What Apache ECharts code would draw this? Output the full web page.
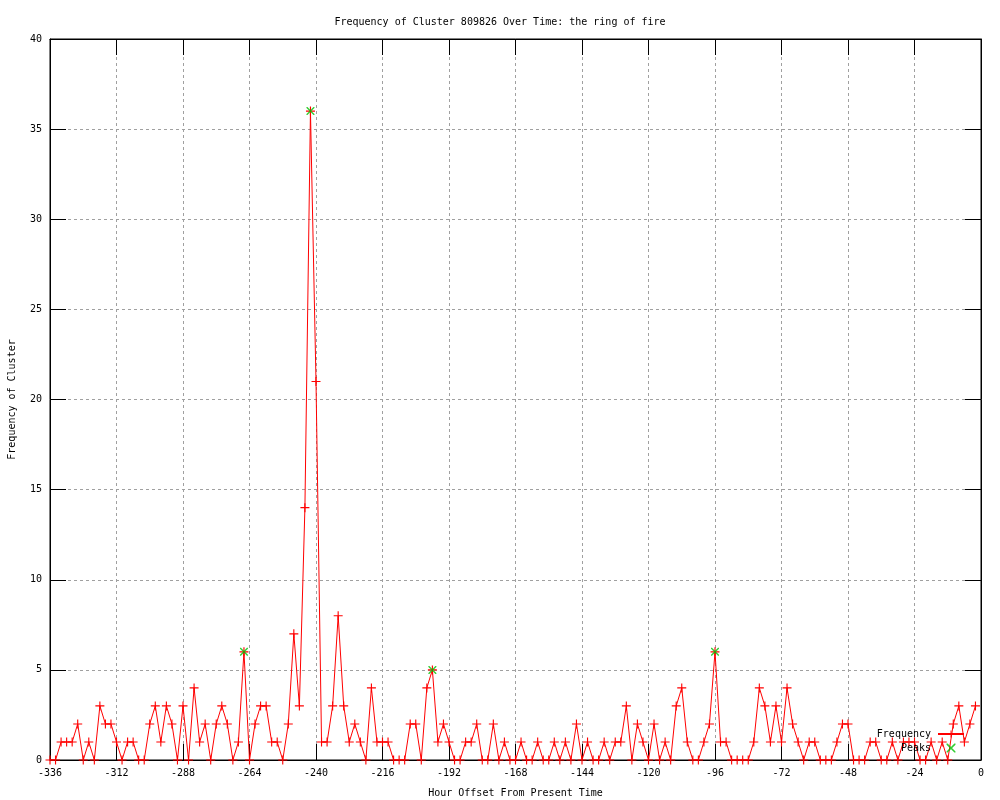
<!DOCTYPE html>
<html>
<head>
<meta charset="utf-8">
<title>Frequency of Cluster 809826</title>
<script src="https://cdn.jsdelivr.net/npm/echarts@6/dist/echarts.min.js"></script>
<style>
  html, body { margin: 0; padding: 0; background: #fff; }
  #chart { width: 1000px; height: 800px; }
</style>
</head>
<body>
<div id="chart"></div>
<script>
// x: hour offsets, one sample every 2 hours starting at -336
const startHour = -336;
const hourStep = 2;

// frequency per sample
const frequency = [
  0, 0, 1, 1, 1, 2, 0, 1, 0, 3, 2, 2, 1, 0, 1, 1, 0, 0, 2, 3,
  1, 3, 2, 0, 3, 0, 4, 1, 2, 0, 2, 3, 2, 0, 1, 6, 0, 2, 3, 3,
  1, 1, 0, 2, 7, 3, 14, 36, 21, 1, 1, 3, 8, 3, 1, 2, 1, 0, 4, 1,
  1, 1, 0, 0, 0, 2, 2, 0, 4, 5, 1, 2, 1, 0, 0, 1, 1, 2, 0, 0,
  2, 0, 1, 0, 0, 1, 0, 0, 1, 0, 0, 1, 0, 1, 0, 2, 0, 1, 0, 0,
  1, 0, 1, 1, 3, 0, 2, 1, 0, 2, 0, 1, 0, 3, 4, 1, 0, 0, 1, 2,
  6, 1, 1, 0, 0, 0, 0, 1, 4, 3, 1, 3, 1, 4, 2, 1, 0, 1, 1, 0,
  0, 0, 1, 2, 2, 0, 0, 0, 1, 1, 0, 0, 1, 0, 1, 1, 1, 0, 0, 1,
  0, 1, 0, 2, 3, 1, 2, 3
];

// detected peaks
const peakHours = [-266, -242, -198, -96];
const peakValues = [6, 36, 5, 6];

// axis ticks
const xTicks = { min: -336, max: 0, interval: 24 };
const yTicks = { min: 0, max: 40, interval: 5 };

const hours = frequency.map((v, i) => startHour + i * hourStep);
const freqData = hours.map((h, i) => [h, frequency[i]]);
const peakData = peakHours.map((h, i) => [h, peakValues[i]]);

const FONT = 'DejaVu Sans Mono';
// gnuplot-like point shapes (filled outlines so they stay thin)
const PLUS = 'path://M0,3.5H8V4.5H0Z M3.5,0H4.5V8H3.5Z';
const CROSS = 'path://M0,0H1L8,7V8H7L0,1Z M7,0H8V1L1,8H0V7Z';

const chart = echarts.init(document.getElementById('chart'));

const gridLine = { show: true, lineStyle: { color: '#a0a0a0', type: [3, 3], width: 1 } };
const tickIn = { show: true, inside: true, length: 16, lineStyle: { color: '#000' } };
// onZero off, otherwise the mirrored axes jump to the zero line
const blackLine = { show: true, onZero: false, lineStyle: { color: '#000', width: 1 } };

const option = {
  animation: false,
  backgroundColor: '#fff',
  textStyle: { fontFamily: FONT },
  title: {
    text: 'Frequency of Cluster 809826 Over Time: the ring of fire',
    left: 'center',
    top: 12,
    textStyle: { fontFamily: FONT, fontSize: 10, fontWeight: 'normal', color: '#000' }
  },
  legend: {
    orient: 'vertical',
    align: 'right',
    right: 30,
    top: 724,
    itemWidth: 26,
    itemHeight: 9,
    itemGap: 4,
    textStyle: { fontFamily: FONT, fontSize: 10, color: '#000', padding: [0, 2, 0, 0] },
    data: ['Frequency', 'Peaks']
  },
  grid: {
    left: 50,
    right: 19,
    top: 39,
    bottom: 40,
    outerBoundsMode: 'none',
    containLabel: false,
    show: true,
    borderColor: '#000',
    borderWidth: 1,
    backgroundColor: 'transparent'
  },
  xAxis: [
    {
      type: 'value',
      min: xTicks.min,
      max: xTicks.max,
      interval: xTicks.interval,
      name: 'Hour Offset From Present Time',
      nameLocation: 'middle',
      nameGap: 28,
      nameTextStyle: { fontFamily: FONT, fontSize: 10, color: '#000' },
      axisLine: blackLine,
      axisTick: tickIn,
      axisLabel: { fontFamily: FONT, fontSize: 10, color: '#000', margin: 8 },
      splitLine: gridLine
    },
    {
      // mirrored ticks on top
      type: 'value',
      position: 'top',
      min: xTicks.min,
      max: xTicks.max,
      interval: xTicks.interval,
      axisLine: blackLine,
      axisTick: tickIn,
      axisLabel: { show: false },
      splitLine: { show: false }
    }
  ],
  yAxis: [
    {
      type: 'value',
      min: yTicks.min,
      max: yTicks.max,
      interval: yTicks.interval,
      name: 'Frequency of Cluster',
      nameLocation: 'middle',
      nameGap: 33,
      nameRotate: 90,
      nameTextStyle: { fontFamily: FONT, fontSize: 10, color: '#000' },
      axisLine: blackLine,
      axisTick: tickIn,
      axisLabel: { fontFamily: FONT, fontSize: 10, color: '#000', margin: 8 },
      splitLine: gridLine
    },
    {
      // mirrored ticks on the right
      type: 'value',
      position: 'right',
      min: yTicks.min,
      max: yTicks.max,
      interval: yTicks.interval,
      axisLine: blackLine,
      axisTick: tickIn,
      axisLabel: { show: false },
      splitLine: { show: false }
    }
  ],
  series: [
    {
      name: 'Frequency',
      type: 'line',
      data: freqData,
      symbol: PLUS,
      symbolSize: 9,
      showAllSymbol: true,
      color: '#ff0000',
      lineStyle: { color: '#ff0000', width: 1 },
      itemStyle: { color: '#ff0000' },
      z: 2
    },
    {
      name: 'Peaks',
      type: 'scatter',
      data: peakData,
      symbol: CROSS,
      symbolSize: 8,
      color: '#00c000',
      itemStyle: { color: '#00c000' },
      z: 3
    }
  ]
};

chart.setOption(option);
</script>
</body>
</html>
